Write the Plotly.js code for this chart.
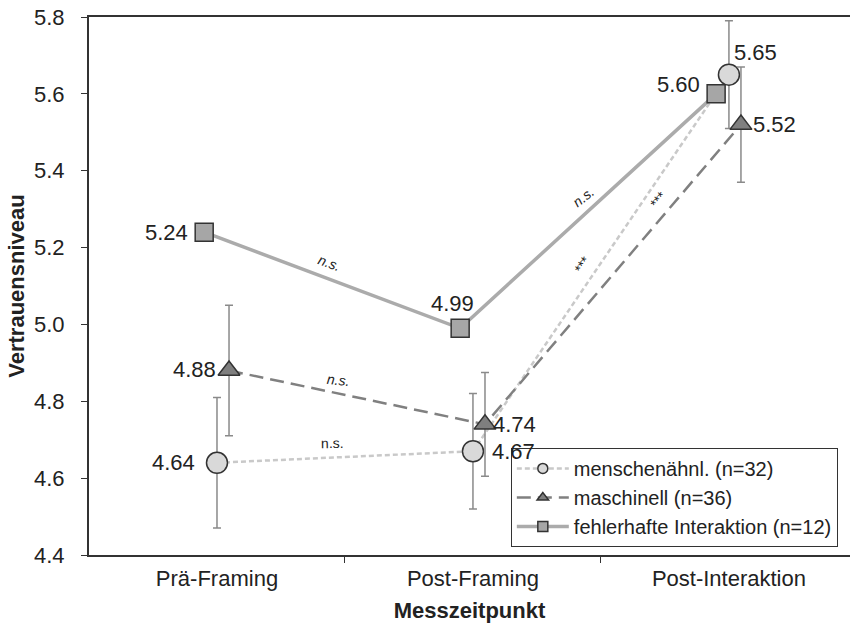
<!DOCTYPE html>
<html>
<head>
<meta charset="utf-8">
<script src="https://cdn.plot.ly/plotly-3.0.1.min.js"></script>
<style>html,body{margin:0;padding:0;background:#fff;}#chart{width:850px;height:627px;}</style>
</head>
<body>
<div id="chart"></div>
<script>
// ---- data ----
const categories = ['Prä-Framing', 'Post-Framing', 'Post-Interaktion'];
const seriesNames = ['menschenähnl. (n=32)', 'maschinell (n=36)', 'fehlerhafte Interaktion (n=12)'];
const menschValues = [4.64, 4.67, 5.65];
const menschErrors = [0.17, 0.15, 0.14];
const maschValues = [4.88, 4.74, 5.52];
const maschErrors = [0.17, 0.135, 0.15];
const fehlerValues = [5.24, 4.99, 5.60];
// significance labels: text, x (category units), y (value units), angle
const sigTexts = ['n.s.', 'n.s.', 'n.s.', 'n.s.', '***', '***'];
const sigX = [0.441, 0.473, 0.453, 1.430, 1.426, 1.723];
const sigY = [5.160, 4.855, 4.692, 5.332, 5.155, 5.324];
const sigAngle = [20, 6, -1, -38, -57, -50];
const sigItalic = [true, true, false, true, false, false];

// ---- layout helpers ----
const catIdx = categories.map((c, i) => i);
const offset = {mensch: 0, masch: 0.047, fehler: -0.05};
const xs = k => catIdx.map(i => i + offset[k]);

const FONT = 'Liberation Sans, Arial, sans-serif';
const TXT = '#222';

const styles = {
  mensch: {line: {color: '#c9c9c9', width: 2.5, dash: '5px,3px'}, marker: {symbol: 'circle', color: '#d9d9d9', line: {color: '#333', width: 1.5}}},
  masch: {line: {color: '#808080', width: 2.5, dash: '14px,7px'}, marker: {symbol: 'triangle-up', color: '#7f7f7f', line: {color: '#333', width: 1.5}}},
  fehler: {line: {color: '#ababab', width: 3.5}, marker: {symbol: 'square', color: '#a6a6a6', line: {color: '#333', width: 1.5}}}
};

const errStyle = {type: 'data', visible: true, color: '#8a8a8a', thickness: 1.5, width: 4};

const traces = [
  {x: xs('mensch'), y: menschValues, mode: 'lines+markers', showlegend: false,
   line: styles.mensch.line, marker: Object.assign({size: 21}, styles.mensch.marker),
   error_y: Object.assign({array: menschErrors}, errStyle)},
  {x: xs('masch'), y: maschValues, mode: 'lines+markers', showlegend: false,
   line: styles.masch.line, marker: Object.assign({size: 19}, styles.masch.marker),
   error_y: Object.assign({array: maschErrors}, errStyle)},
  {x: xs('fehler'), y: fehlerValues, mode: 'lines+markers', showlegend: false,
   line: styles.fehler.line, marker: Object.assign({size: 18}, styles.fehler.marker)},
  // legend entries
  {x: [null], y: [null], mode: 'lines+markers', name: seriesNames[0], line: styles.mensch.line, marker: Object.assign({size: 10}, styles.mensch.marker)},
  {x: [null], y: [null], mode: 'lines+markers', name: seriesNames[1], line: styles.masch.line, marker: Object.assign({size: 10}, styles.masch.marker)},
  {x: [null], y: [null], mode: 'lines+markers', name: seriesNames[2], line: styles.fehler.line, marker: Object.assign({size: 10}, styles.fehler.marker)},
  // dummy on xaxis2 for category labels
  {x: [null], y: [null], xaxis: 'x2', showlegend: false, hoverinfo: 'skip'}
];

const ann = [];
// value labels
const lab = (x, y, text, xanchor, xshift, yshift, yanchor) => ann.push({
  x, y, text, xanchor, yanchor: yanchor || 'middle', xshift, yshift: yshift || 0,
  showarrow: false, font: {family: FONT, size: 22, color: TXT}
});
const fmt = v => v.toFixed(2);
lab(xs('fehler')[0], fehlerValues[0], fmt(fehlerValues[0]), 'right', -14, 0);
lab(xs('fehler')[1], fehlerValues[1], fmt(fehlerValues[1]), 'center', -8, 10, 'bottom');
lab(xs('fehler')[2], fehlerValues[2], fmt(fehlerValues[2]), 'right', -14, 9);
lab(xs('masch')[0], maschValues[0], fmt(maschValues[0]), 'right', -11, 1);
lab(xs('masch')[1], maschValues[1], fmt(maschValues[1]), 'left', 6, 0);
lab(xs('masch')[2], maschValues[2], fmt(maschValues[2]), 'left', 10, 0);
lab(xs('mensch')[0], menschValues[0], fmt(menschValues[0]), 'right', -20, 0);
lab(xs('mensch')[1], menschValues[1], fmt(menschValues[1]), 'left', 17, 0);
lab(xs('mensch')[2], menschValues[2], fmt(menschValues[2]), 'left', 3, 22);
// significance labels
sigTexts.forEach((t, i) => ann.push({
  x: sigX[i], y: sigY[i], text: sigItalic[i] ? '<i>' + t + '</i>' : t, textangle: sigAngle[i],
  showarrow: false, font: {family: FONT, size: 14, color: TXT}
}));

const layout = {
  width: 850, height: 627,
  margin: {l: 89, r: 0, t: 17, b: 72},
  paper_bgcolor: '#fff', plot_bgcolor: '#fff',
  font: {family: FONT, color: TXT},
  showlegend: true,
  legend: {x: 0.984, y: 0.015, xanchor: 'right', yanchor: 'bottom', bgcolor: '#fff',
           bordercolor: '#333', borderwidth: 1, font: {family: FONT, size: 20, color: TXT},
           tracegroupgap: 0, itemwidth: 52},
  xaxis: {range: [-0.5, 2.473], showgrid: false, zeroline: false, showline: true, mirror: true,
          linecolor: '#333', linewidth: 2, tickvals: [0.5, 1.5], ticks: 'outside', ticklen: 6,
          tickcolor: '#333', tickwidth: 1, showticklabels: false, fixedrange: true},
  xaxis2: {overlaying: 'x', side: 'bottom', range: [-0.5, 2.473], showgrid: false, zeroline: false,
           showline: false, tickvals: catIdx, ticktext: categories, ticks: 'outside', ticklen: 4,
           tickcolor: 'rgba(0,0,0,0)', tickfont: {family: FONT, size: 22, color: TXT},
           title: {text: '<b>Messzeitpunkt</b>', font: {family: FONT, size: 22, color: TXT}, standoff: 12}},
  yaxis: {range: [4.4, 5.8], dtick: 0.2, tick0: 4.4, tickformat: '.1f', showgrid: false, zeroline: false,
          showline: true, linecolor: '#333', linewidth: 2, ticks: 'outside', ticklen: 6, tickcolor: '#333',
          ticklabelstandoff: 12,
          tickfont: {family: FONT, size: 22, color: TXT},
          title: {text: '<b>Vertrauensniveau</b>', font: {family: FONT, size: 22, color: TXT}, standoff: 3}},
  annotations: ann
};

Plotly.newPlot('chart', traces, layout, {displayModeBar: false, staticPlot: true});
</script>
</body>
</html>
